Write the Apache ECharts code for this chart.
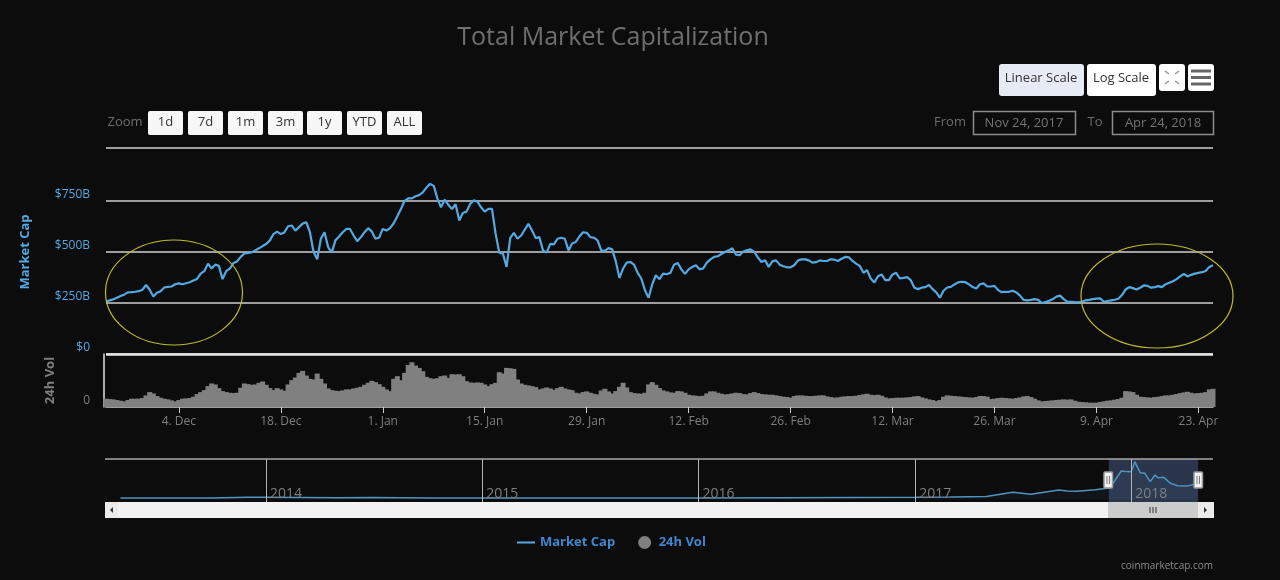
<!DOCTYPE html>
<html>
<head>
<meta charset="utf-8">
<title>Total Market Capitalization</title>
<script src="https://cdn.jsdelivr.net/npm/echarts@6/dist/echarts.min.js"></script>
<style>
html, body { margin: 0; padding: 0; background: #0c0c0c; }
#main { width: 1280px; height: 580px; }
</style>
</head>
<body>
<div id="main"></div>
<script>
// market cap in $B, one value every 12 hours from Nov 24 2017
var marketCap = [
    256,263,268,276,284,291,302,303,305,308,
    315,338,315,282,300,308,326,329,331,342,
    346,342,347,352,360,368,394,406,443,419,
    438,432,367,406,419,446,454,476,493,495,
    498,508,518,529,539,557,588,600,588,596,
    626,630,605,622,639,646,597,500,464,565,
    597,524,497,557,576,597,613,613,581,553,
    573,597,617,600,565,570,613,605,617,641,
    675,711,751,763,763,773,779,792,816,834,
    824,763,719,756,732,711,734,654,691,698,
    735,753,747,719,698,711,711,589,497,492,
    427,568,594,565,581,609,638,605,568,573,
    508,497,540,537,565,570,565,508,542,549,
    576,597,594,573,570,557,508,506,519,513,
    454,373,419,448,451,438,398,370,313,276,
    341,386,367,394,391,398,438,446,415,393,
    415,427,435,415,420,448,464,476,479,490,
    500,508,518,487,484,502,508,513,500,474,
    451,459,427,454,459,438,430,425,425,435,
    458,464,464,459,448,450,459,456,456,464,
    463,456,467,476,474,456,443,432,398,411,
    370,351,381,390,362,362,390,398,370,373,
    377,362,325,318,325,328,338,318,302,276,
    310,326,329,341,351,354,352,341,328,321,
    342,346,331,331,334,313,303,305,305,310,
    302,286,265,263,265,269,265,250,255,261,
    269,281,286,269,256,256,255,253,256,263,
    265,269,271,273,256,260,263,266,271,289,
    316,328,323,316,325,336,334,325,328,333,
    328,342,349,357,367,380,393,380,388,394,
    398,401,407,427,435
];
// 24h volume in $B, same dates
var volume = [
    12.5,12,11.5,10.5,9.5,8.5,10.5,12.5,12.5,12.5,
    13.5,17.5,22.5,20.5,16.5,14,12.5,11.5,10,8.5,
    10.5,12.5,13,13.5,15.5,19.5,22.5,25.5,31.5,35.5,
    34,28.5,24,22.5,21.5,21,21.5,29,35.5,34.5,
    33.5,34,36.5,38.5,33.5,28.5,25.5,28.5,26.5,24.5,
    34,40.5,44.5,51.5,54.5,47.5,42.5,41.5,50.5,42.5,
    35.5,28,25.5,24.5,24,25,26.5,26.5,28,29,
    30.5,33.5,36.5,39.5,37.5,34.5,30.5,26.5,24,42.5,
    46.5,40.5,51.5,63.5,67.5,62.5,59,54,45.5,43.5,
    42.5,43.5,46.5,47.5,44,49.5,49,49.5,46.5,39,
    37,36.5,37,36.5,34,31.5,34.5,36.5,52.5,50.5,
    59,58.5,57.5,41.5,35.5,33.5,32.5,31.5,30,26.5,
    28,29.5,28,26,28.5,30.5,28,26.5,25.5,21.5,
    20.5,22.5,23.5,21.5,20,19,25,27.5,23.5,20.5,
    24,30.5,36.5,29.5,22.5,21,20.5,20,21.5,34,
    37.5,33.5,28.5,25,23.5,22,21.5,24,23.5,21.5,
    18.5,17.5,17,16.5,17,20.5,23.5,23.5,21.5,20,
    19,19.5,20.5,21.5,21,19.5,19,21,22.5,21,
    19.5,19,18.5,18.5,17.5,16.5,15.5,15,14,16.5,
    17.5,17.5,17,16.5,16.5,17,17.5,17.5,16,15,
    14,14.5,15.5,16,16.5,16.5,17,18,19,20,
    18.5,18,18.5,17,14.5,13,13.5,14,14,14,
    14.5,15,16,16.5,14.5,13,11.5,10.5,9,10.5,
    15.5,17.5,17,16.5,16,15.5,15,14.5,14,15,
    16.5,16.5,15.5,12,12.5,13.5,14,13.5,13,12.5,
    13.5,14.5,16,16.5,15,12.5,10,8.5,9,9.5,
    10,10.5,11,11.5,11,11.5,9.5,8,7.5,7,
    6.5,6.5,6.5,7.5,8.5,9.5,10,11,12,14,
    24,23.5,22.5,18.5,15.5,15,14.5,14,15,15.5,
    16.5,17.5,17.5,18.5,19.5,21,22,23,21.5,20.5,
    21,21.5,22.5,26.5,27.5
];
var tickLabels = ['4. Dec', '18. Dec', '1. Jan', '15. Jan', '29. Jan', '12. Feb', '26. Feb', '12. Mar', '26. Mar', '9. Apr', '23. Apr'];
var firstTick = 20, tickStep = 28;   // in 12h steps

// whole history for the navigator strip
var navDates = ['2013-04-30','2013-07-01','2013-10-01','2013-12-01','2014-01-01','2014-03-01','2014-05-01','2014-07-01','2014-10-01',
    '2015-01-01','2015-06-01','2016-01-01','2016-06-01','2017-01-01','2017-03-01','2017-05-01','2017-06-15','2017-07-15','2017-08-01',
    '2017-09-01','2017-09-15','2017-10-01','2017-11-01','2017-11-24','2017-12-01','2017-12-15','2017-12-24','2018-01-01','2018-01-07',
    '2018-01-16','2018-01-24','2018-02-02','2018-02-10','2018-02-15','2018-02-25','2018-03-08','2018-03-20','2018-04-01','2018-04-08','2018-04-24'];
var navValues = [25,27,27,42,42,36,30,34,28,27,26,28,32,42,47,60,147,105,139,197,175,169,204,240,340,604,590,589,800,567,553,375,518,460,467,340,289,282,290,340];
var navYears = ['2014', '2015', '2016', '2017', '2018'];

var timeLabels = [];
for (var i = 0; i < marketCap.length; i++) {
    timeLabels.push(new Date(Date.UTC(2017, 10, 24, i * 12)).toISOString().slice(0, 16));
}

var fontName = '"Open Sans", sans-serif';
var gray = '#7f7f7f', blue = '#55a9e2';

function isTick(index) {
    return index >= firstTick && (index - firstTick) % tickStep === 0;
}
function txt(x, y, s, color, size, align, weight) {
    return { type: 'text', silent: true, z: 20, style: { x: x, y: y, text: s, fill: color, align: align || 'center',
        verticalAlign: 'middle', font: (weight || 'normal') + ' ' + size + 'px ' + fontName } };
}
function box(x, y, w, h, fill, r, stroke) {
    return { type: 'rect', silent: true, z: 19, shape: { x: x, y: y, width: w, height: h, r: r || 0 },
        style: { fill: fill, stroke: stroke || null, lineWidth: stroke ? 1.5 : 0 } };
}
function seg(x1, y1, x2, y2, color, w) {
    return { type: 'line', silent: true, z: 19, shape: { x1: x1, y1: y1, x2: x2, y2: y2 }, style: { stroke: color, lineWidth: w || 1 } };
}

var chrome = [
    seg(106, 148, 1213, 148, '#cfcfcf', 1.5),
    seg(105, 459, 1213, 459, '#a8a8a8', 1.5),
    txt(125, 122.5, 'Zoom', '#6e6e6e', 13),
    txt(950, 122, 'From', '#6e6e6e', 13),
    txt(1095, 122, 'To', '#6e6e6e', 13),
    box(973.5, 111.5, 102, 23, 'none', 0, '#8c8c8c'),
    box(1112.5, 111.5, 101, 23, 'none', 0, '#8c8c8c'),
    txt(1024, 123, 'Nov 24, 2017', '#747474', 13),
    txt(1163, 123, 'Apr 24, 2018', '#747474', 13),
    box(999, 64, 85, 32, '#e6ebf5', 3),
    txt(1041, 78, 'Linear Scale', '#333', 13),
    box(1087, 64, 69, 32, '#fff', 3),
    txt(1121, 78, 'Log Scale', '#333', 13),
    box(1159, 64, 26, 27, '#fff', 3),
    box(1188, 64, 26, 27, '#fff', 3),
    seg(1191, 71, 1211, 71, '#666', 3),
    seg(1191, 77.5, 1211, 77.5, '#666', 3),
    seg(1191, 84, 1211, 84, '#666', 3),
    seg(1165, 71, 1169, 74, '#999', 1.5), seg(1179, 71, 1175, 74, '#999', 1.5),
    seg(1165, 84, 1169, 81, '#999', 1.5), seg(1179, 84, 1175, 81, '#999', 1.5),
    // scrollbar
    box(105, 502, 1109, 16, '#f2f2f2'),
    box(105, 502, 13, 16, '#ebebeb'),
    box(1108, 502, 90, 16, '#cccccc'),
    box(1198, 502, 16, 16, '#ebebeb'),
    seg(1150, 507, 1150, 513, '#333'), seg(1153, 507, 1153, 513, '#333'), seg(1156, 507, 1156, 513, '#333'),
    { type: 'polygon', silent: true, z: 20, shape: { points: [[113, 507], [110, 510], [113, 513]] }, style: { fill: '#333' } },
    { type: 'polygon', silent: true, z: 20, shape: { points: [[1204, 507], [1207, 510], [1204, 513]] }, style: { fill: '#333' } },
    // navigator handles
    box(1104, 472, 8.5, 16, '#f2f2f2', 1, '#999'),
    seg(1107, 476, 1107, 484, '#777'), seg(1109.5, 476, 1109.5, 484, '#777'),
    box(1194, 472, 8.5, 16, '#f2f2f2', 1, '#999'),
    seg(1197, 476, 1197, 484, '#777'), seg(1199.5, 476, 1199.5, 484, '#777'),
    txt(1213, 566, 'coinmarketcap.com', '#8c8c8c', 10, 'right'),
    // hand drawn circles
    { type: 'ellipse', silent: true, z: 21, shape: { cx: 174, cy: 292.5, rx: 68.5, ry: 52.5 }, style: { fill: 'none', stroke: '#bcbc2c', lineWidth: 1.2 } },
    { type: 'ellipse', silent: true, z: 21, shape: { cx: 1157, cy: 296, rx: 76, ry: 52 }, style: { fill: 'none', stroke: '#bcbc2c', lineWidth: 1.2 } }
];
var rangeNames = ['1d', '7d', '1m', '3m', '1y', 'YTD', 'ALL'];
var rangeLeft = [148, 188, 228, 268, 307, 347, 387];
rangeNames.forEach(function (name, k) {
    chrome.push(box(rangeLeft[k], 111, 35, 24, '#f7f7f7', 2));
    chrome.push(txt(rangeLeft[k] + 17.5, 122.5, name, '#333', 13));
});

var myChart = echarts.init(document.getElementById('main'));
var option = {
    animation: false,
    useUTC: true,
    backgroundColor: '#0c0c0c',
    textStyle: { fontFamily: fontName },
    title: {
        text: 'Total Market Capitalization', left: 608, top: 20, textAlign: 'center',
        textStyle: { color: '#6f6f6f', fontSize: 25, fontWeight: 'normal', fontFamily: fontName }
    },
    legend: {
        left: 511, top: 531, itemWidth: 18, itemHeight: 13, itemGap: 23,
        textStyle: { color: '#3f87cf', fontSize: 13, fontWeight: 'bold', fontFamily: fontName },
        data: [{ name: 'Market Cap', itemStyle: { opacity: 0 } }, { name: '24h Vol', icon: 'circle' }]
    },
    grid: [
        { left: 106, width: 1107, top: 150, height: 204 },
        { left: 106, width: 1107, top: 354, height: 53 },
        { left: 105, width: 1108, top: 459, height: 43 }
    ],
    xAxis: [
        { type: 'category', gridIndex: 0, data: timeLabels, boundaryGap: false, show: false },
        {
            type: 'category', gridIndex: 1, data: timeLabels, boundaryGap: false,
            axisLine: { lineStyle: { color: '#cfcfcf', width: 1.5 } },
            axisTick: { interval: function (index) { return isTick(index); }, length: 6, lineStyle: { color: '#cfcfcf' } },
            axisLabel: {
                interval: function (index) { return isTick(index); }, color: gray, fontSize: 12, margin: 9, hideOverlap: false,
                formatter: function (value, index) { return tickLabels[(index - firstTick) / tickStep]; }
            }
        },
        { type: 'time', gridIndex: 2, min: '2013-04-04', max: '2018-05-19', show: false }
    ],
    yAxis: [
        {
            type: 'value', gridIndex: 0, min: 0, max: 1000, interval: 250,
            name: 'Market Cap', nameLocation: 'middle', nameGap: 74, nameRotate: 90,
            nameTextStyle: { color: blue, fontSize: 13, fontWeight: 'bold', fontFamily: fontName },
            axisLine: { show: false }, axisTick: { show: false },
            splitLine: { showMaxLine: false, lineStyle: { color: '#cfcfcf', width: 1.5 } },
            axisLabel: {
                color: blue, fontSize: 12, margin: 16, verticalAlign: 'bottom',
                formatter: function (v) { return v === 1000 ? '' : '$' + v + (v ? 'B' : ''); }
            }
        },
        {
            type: 'value', gridIndex: 1, min: 0, max: 80, interval: 80, offset: 2,
            name: '24h Vol', nameLocation: 'middle', nameGap: 47, nameRotate: 90,
            nameTextStyle: { color: gray, fontSize: 13, fontWeight: 'bold', fontFamily: fontName },
            axisLine: { show: true, lineStyle: { color: '#e0e0e0', width: 1.5 } }, axisTick: { show: false },
            splitLine: { show: true, showMinLine: false, lineStyle: { color: '#e6e6e6', width: 2.5 } },
            axisLabel: { color: gray, fontSize: 12, margin: 14, verticalAlign: 'bottom', formatter: function (v) { return v ? '' : '0'; } }
        },
        { type: 'value', gridIndex: 2, min: -60, max: 860, show: false, splitLine: { show: false } }
    ],
    series: [
        {
            name: '24h Vol', type: 'bar', xAxisIndex: 1, yAxisIndex: 1, data: volume,
            barWidth: 5, itemStyle: { color: '#808080' }
        },
        {
            name: 'Market Cap', type: 'line', xAxisIndex: 0, yAxisIndex: 0, data: marketCap,
            symbol: 'none', lineStyle: { color: blue, width: 2.2 }, itemStyle: { color: blue }
        },
        {
            name: 'Navigator', type: 'line', xAxisIndex: 2, yAxisIndex: 2,
            data: navDates.map(function (d, k) { return [d, navValues[k]]; }),
            symbol: 'none', lineStyle: { color: '#4f94c0', width: 1.5 },
            areaStyle: { color: 'rgba(79,148,192,0.1)' },
            markLine: {
                silent: true, symbol: 'none', animation: false,
                lineStyle: { color: '#b5b5b5', width: 1, type: 'solid' },
                label: {
                    position: 'insideStartTop', rotate: 0, color: gray, fontSize: 14, offset: [-1, 4],
                    formatter: function (p) { return p.name; }
                },
                data: navYears.map(function (y) { return { name: y, xAxis: y + '-01-01' }; })
            },
            markArea: {
                silent: true, itemStyle: { color: 'rgba(102,133,194,0.35)' },
                data: [[{ xAxis: '2017-11-24' }, { xAxis: '2018-04-24' }]]
            }
        }
    ],
    graphic: chrome
};
myChart.setOption(option);
</script>
</body>
</html>
